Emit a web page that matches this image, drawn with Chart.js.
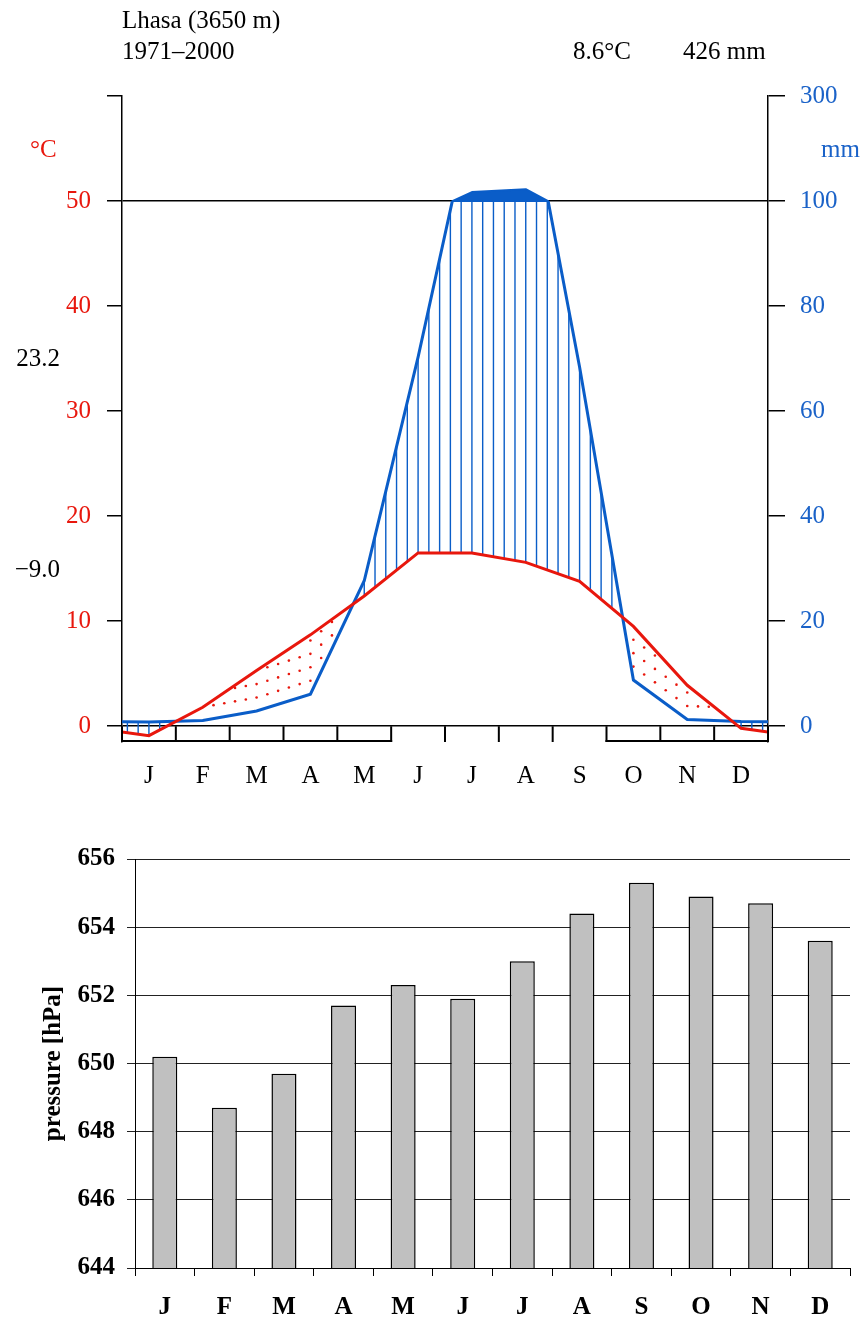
<!DOCTYPE html>
<html lang="en">
	<head>
		<meta charset="UTF-8">
		<title>Lhasa climate diagram</title>
		<script src="https://cdn.jsdelivr.net/npm/chart.js"></script>
		<style>
			body { margin: 0; background: #fff; }
			canvas { display: block; }
		</style>
	</head>
	<body>
		<canvas id="climate" width="861" height="800"></canvas>
		<canvas id="pressure" width="861" height="520"></canvas>

		<script>
			// Monthly data
			const months = ['J', 'F', 'M', 'A', 'M', 'J', 'J', 'A', 'S', 'O', 'N', 'D'];
			const tempC = [-0.9, 1.8, 5.3, 8.7, 12.4, 16.5, 16.5, 15.6, 13.8, 9.5, 3.9, -0.2];
			const precipMm = [0.8, 1.1, 2.9, 6.1, 27.7, 70.3, 117, 122.5, 68.4, 8.8, 1.3, 0.9];
			const frostMonth = [true, true, true, true, true, false, false, false, false, true, true, true];
			const tempTicks = [0, 10, 20, 30, 40, 50, 60];
			const pressureHpa = [650.2, 648.7, 649.7, 651.7, 652.3, 651.9, 653.0, 654.4, 655.3, 654.9, 654.7, 653.6];

			const RED = '#e8170d';
			const BLUE = '#0a5dc8';
			const BLUE_TEXT = '#1a62c8';
			const FONT = 'Liberation Serif';

			// points at month centres, plus the Dec/Jan mean at both edges
			function withEdges(vals) {
				const edge = (vals[0] + vals[vals.length - 1]) / 2;
				return [{x: 0, y: edge}]
					.concat(vals.map((v, i) => ({x: i + 0.5, y: v})))
					.concat([{x: 12, y: edge}]);
			}
			const tempPts = withEdges(tempC);
			const precipPts = withEdges(precipMm.map(mm => mm / 2)); // 20 mm = 10 °C

			function interp(pts, xv) {
				for (let i = 0; i < pts.length - 1; i++) {
					const a = pts[i], b = pts[i + 1];
					if (xv >= a.x && xv <= b.x) return a.y + (b.y - a.y) * (xv - a.x) / (b.x - a.x);
				}
				return pts[pts.length - 1].y;
			}

			// hatching, dots, >100 mm fill, frost boxes and texts
			const climatePlugin = {
				id: 'climate',
				beforeDatasetsDraw(chart) {
					const {ctx, scales: {x, y}} = chart;
					ctx.save();
					for (let k = 0; k < 60; k++) {
						const xv = (k + 0.5) / 5;
						const t = interp(tempPts, xv);
						const p = interp(precipPts, xv);
						const px = x.getPixelForValue(xv);
						if (p > t) {
							ctx.strokeStyle = BLUE;
							ctx.lineWidth = 1.4;
							ctx.beginPath();
							ctx.moveTo(px, y.getPixelForValue(t));
							ctx.lineTo(px, y.getPixelForValue(Math.min(p, 50)));
							ctx.stroke();
						} else {
							ctx.fillStyle = RED;
							for (let v = p + 1.28; y.getPixelForValue(v) > y.getPixelForValue(t) + 2.5; v += 1.28) {
								ctx.beginPath();
								ctx.arc(px, y.getPixelForValue(v), 1.3, 0, Math.PI * 2);
								ctx.fill();
							}
						}
					}

					// above 100 mm the scale is reduced to 1/10
					const poly = [];
					for (let i = 0; i < precipPts.length; i++) {
						const c = precipPts[i];
						if (c.y <= 50) continue;
						const prev = precipPts[i - 1], next = precipPts[i + 1];
						if (prev && prev.y <= 50) poly.push({x: prev.x + (c.x - prev.x) * (50 - prev.y) / (c.y - prev.y), y: 50});
						poly.push({x: c.x, y: 50 + (c.y - 50) / 10});
						if (next && next.y <= 50) poly.push({x: c.x + (next.x - c.x) * (c.y - 50) / (c.y - next.y), y: 50});
					}
					if (poly.length) {
						ctx.fillStyle = BLUE;
						ctx.strokeStyle = BLUE;
						ctx.lineWidth = 2;
						ctx.lineJoin = 'round';
						ctx.beginPath();
						poly.forEach((pt, i) => {
							const px = x.getPixelForValue(pt.x), py = y.getPixelForValue(pt.y);
							if (i === 0) ctx.moveTo(px, py); else ctx.lineTo(px, py);
						});
						ctx.closePath();
						ctx.fill();
						ctx.stroke();
					}
					ctx.restore();
				},
				beforeDatasetDraw(chart, args) {
					if (args.index !== 1) return;
					const {ctx, chartArea: a, scales: {y}} = chart;
					const top = y.getPixelForValue(50);
					ctx.save();
					ctx.beginPath();
					ctx.rect(a.left, top, a.right - a.left, a.bottom - top);
					ctx.clip();
				},
				afterDatasetDraw(chart, args) {
					if (args.index === 1) chart.ctx.restore();
				},
				afterDatasetsDraw(chart) {
					const {ctx, chartArea: a, scales: {x, y}} = chart;
					const zero = y.getPixelForValue(0);
					ctx.save();
					ctx.strokeStyle = '#000';
					ctx.lineWidth = 2;
					for (let i = 0; i <= 12; i++) {
						ctx.beginPath();
						ctx.moveTo(x.getPixelForValue(i), zero);
						ctx.lineTo(x.getPixelForValue(i), a.bottom);
						ctx.stroke();
					}
					frostMonth.forEach((f, i) => {
						if (!f) return;
						ctx.beginPath();
						ctx.moveTo(x.getPixelForValue(i) - 1, a.bottom - 1);
						ctx.lineTo(x.getPixelForValue(i + 1) + 1, a.bottom - 1);
						ctx.stroke();
					});
					ctx.restore();
				},
				afterDraw(chart) {
					const ctx = chart.ctx;
					ctx.save();
					ctx.font = '25px "' + FONT + '"';
					ctx.textBaseline = 'alphabetic';
					ctx.fillStyle = '#000';
					ctx.textAlign = 'left';
					ctx.fillText('Lhasa (3650 m)', 122, 28);
					ctx.fillText('1971\u20132000', 122, 59);
					ctx.fillText('8.6\u00b0C', 573, 59);
					ctx.fillText('426 mm', 683, 59);
					ctx.textAlign = 'right';
					ctx.fillText('23.2', 60, 366);
					ctx.fillText('\u22129.0', 60, 577);
					ctx.fillStyle = RED;
					ctx.textAlign = 'left';
					ctx.fillText('\u00b0C', 30, 157);
					ctx.fillStyle = BLUE_TEXT;
					ctx.fillText('mm', 821, 157);
					ctx.restore();
				}
			};

			const setTicks = list => scale => { scale.ticks = list.map(v => ({value: v})); };

			new Chart(document.getElementById('climate'), {
				type: 'line',
				data: {
					datasets: [{
						label: 'temperature',
						data: tempPts,
						borderColor: RED,
						borderWidth: 3,
						pointRadius: 0,
						tension: 0,
						yAxisID: 'y'
					}, {
						label: 'precipitation',
						data: precipPts,
						borderColor: BLUE,
						borderWidth: 3,
						pointRadius: 0,
						tension: 0,
						yAxisID: 'y'
					}]
				},
				options: {
					responsive: false,
					animation: false,
					layout: {padding: {top: 96, left: 0, right: 0, bottom: 0}},
					plugins: {legend: {display: false}, tooltip: {enabled: false}},
					scales: {
						x: {
							type: 'linear',
							min: 0,
							max: 12,
							afterBuildTicks: scale => { scale.ticks = months.map((m, i) => ({value: i + 0.5})); },
							afterFit: scale => { scale.height = 58; },
							grid: {display: false},
							border: {display: false},
							ticks: {
								autoSkip: false,
								maxRotation: 0,
								padding: 11,
								color: '#000',
								font: {family: FONT, size: 25},
								callback: v => months[Math.floor(v)]
							}
						},
						y: {
							position: 'left',
							min: -1.5,
							max: 60,
							afterBuildTicks: setTicks(tempTicks),
							afterFit: scale => { scale.width = 122; },
							grid: {
								drawOnChartArea: true,
								color: c => (c.tick && (c.tick.value === 0 || c.tick.value === 50)) ? '#000' : 'rgba(0,0,0,0)',
								tickColor: '#000',
								tickLength: 15,
								lineWidth: 1.5
							},
							border: {display: true, color: '#000', width: 1.5},
							ticks: {
								padding: 16,
								color: RED,
								font: {family: FONT, size: 25},
								callback: v => v === 60 ? '' : String(v)
							}
						},
						y2: {
							position: 'right',
							min: -1.5,
							max: 60,
							afterBuildTicks: setTicks(tempTicks),
							afterFit: scale => { scale.width = 93; },
							grid: {drawOnChartArea: false, tickColor: '#000', tickLength: 17, lineWidth: 1.5},
							border: {display: true, color: '#000', width: 1.5},
							ticks: {
								padding: 15,
								color: BLUE_TEXT,
								font: {family: FONT, size: 25},
								callback: v => String(v <= 50 ? v * 2 : 100 + (v - 50) * 20)
							}
						}
					}
				},
				plugins: [climatePlugin]
			});

			new Chart(document.getElementById('pressure'), {
				type: 'bar',
				data: {
					labels: months,
					datasets: [{
						label: 'pressure',
						data: pressureHpa,
						backgroundColor: '#c0c0c0',
						borderColor: '#000',
						borderWidth: 1.5,
						borderSkipped: 'bottom',
						categoryPercentage: 1,
						barPercentage: 0.42
					}]
				},
				options: {
					responsive: false,
					animation: false,
					layout: {padding: {top: 59, left: 0, right: 11, bottom: 0}},
					plugins: {legend: {display: false}, tooltip: {enabled: false}},
					scales: {
						x: {
							afterFit: scale => { scale.height = 52; },
							grid: {display: true, drawOnChartArea: false, tickLength: 8, color: '#000'},
							border: {display: true, color: '#000', width: 1},
							ticks: {
								padding: 17,
								color: '#000',
								font: {family: FONT, size: 25, weight: 'bold'}
							}
						},
						y: {
							min: 644,
							max: 656,
							ticks: {
								stepSize: 2,
								padding: 12,
								color: '#000',
								font: {family: FONT, size: 25, weight: 'bold'}
							},
							afterFit: scale => { scale.width = 135; },
							grid: {color: '#222', lineWidth: 1, tickLength: 8},
							border: {display: true, color: '#000', width: 1},
							title: {
								display: true,
								text: 'pressure [hPa]',
								color: '#000',
								padding: {top: 39, bottom: 0},
								font: {family: FONT, size: 25, weight: 'bold'}
							}
						}
					}
				}
			});
		</script>
	</body>
</html>
